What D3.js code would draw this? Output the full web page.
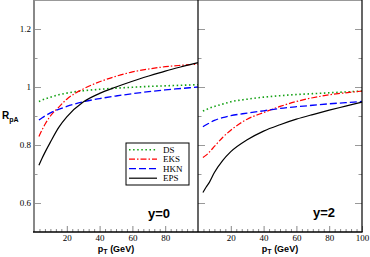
<!DOCTYPE html>
<html>
<head>
<meta charset="UTF-8">
<title>R_pA</title>
<script src="https://cdn.jsdelivr.net/npm/d3@7/dist/d3.min.js"></script>
<style type="text/css">
	body { margin:0; background:white; }
	svg text { fill:black; }
	.tick text { font-family:"Liberation Serif", serif; font-size:9px; }
	.lab { font-family:"Liberation Sans", Arial, sans-serif; font-weight:bold; }
</style>
</head>
<body>
<script type="text/javascript">

// pT points (GeV) shared by every curve
var pT = [3, 5, 7, 10, 15, 20, 30, 40, 50, 60, 70, 80, 90, 100];

// y = 0 panel
var ds0  = [0.950, 0.955, 0.959, 0.965, 0.973, 0.979, 0.987, 0.992, 0.996, 0.999, 1.002, 1.004, 1.006, 1.008];
var eks0 = [0.829, 0.853, 0.874, 0.900, 0.930, 0.958, 0.993, 1.018, 1.037, 1.052, 1.062, 1.070, 1.075, 1.079];
var hkn0 = [0.886, 0.894, 0.901, 0.911, 0.923, 0.933, 0.949, 0.960, 0.969, 0.977, 0.984, 0.990, 0.995, 1.000];
var eps0 = [0.730, 0.755, 0.778, 0.810, 0.860, 0.897, 0.948, 0.978, 1.000, 1.020, 1.038, 1.055, 1.070, 1.084];

// y = 2 panel
var ds2  = [0.917, 0.922, 0.927, 0.933, 0.941, 0.949, 0.958, 0.965, 0.970, 0.974, 0.977, 0.980, 0.983, 0.986];
var eks2 = [0.757, 0.765, 0.776, 0.795, 0.826, 0.851, 0.889, 0.912, 0.933, 0.950, 0.963, 0.973, 0.980, 0.986];
var hkn2 = [0.863, 0.870, 0.876, 0.885, 0.894, 0.901, 0.910, 0.918, 0.926, 0.932, 0.937, 0.942, 0.946, 0.950];
var eps2 = [0.636, 0.655, 0.672, 0.705, 0.746, 0.777, 0.818, 0.848, 0.870, 0.889, 0.905, 0.920, 0.934, 0.948];

var names = ['DS', 'EKS', 'HKN', 'EPS'];
var yMajor = [0.6, 0.8, 1.0, 1.2];
var yMinor = [0.7, 0.9, 1.1];
var xMajor0 = [20, 40, 60, 80];
var xMajor2 = [20, 40, 60, 80, 100];

var styles = {
	DS:  {c:'#12a012', dash:'1.5,2.6', w:1.6},
	EKS: {c:'#ff0000', dash:'6,2,1.5,2', w:1.2},
	HKN: {c:'#0000ff', dash:'7,3', w:1.3},
	EPS: {c:'#000000', dash:null, w:1.2}
};

var W = 370, H = 257,
 yTop = 0, yBot = 232,
 panels = [
	{x0:34, x1:198, data:[ds0, eks0, hkn0, eps0], ticks:xMajor0, label:'y=0', lx:148, ly:218},
	{x0:198, x1:362, data:[ds2, eks2, hkn2, eps2], ticks:xMajor2, label:'y=2', lx:313, ly:217}
 ];

var svg = d3.select('body').append('svg')
	.attr('width', W).attr('height', H);

var y = d3.scaleLinear().domain([0.5, 1.3]).range([yBot, yTop]);

// minor x ticks every 20/6
var xMinor = d3.range(0, 100.001, 20/6).filter(function(v){
	return Math.abs(v/20 - Math.round(v/20)) > 1e-6;
});

function grey(c) {
	return function(a){ a.select('.domain').remove(); a.selectAll('line').attr('stroke', c); };
}

panels.forEach(function(p, pi){
	var x = d3.scaleLinear().domain([0, 100]).range([p.x0, p.x1]);
	var g = svg.append('g');

	// bottom ticks
	g.append('g').attr('transform', 'translate(0,' + yBot + ')')
		.call(d3.axisBottom(x).tickValues(p.ticks).tickSize(-6).tickPadding(3).tickFormat(d3.format('d')))
		.call(grey('#888'));
	g.append('g').attr('transform', 'translate(0,' + yBot + ')')
		.call(d3.axisBottom(x).tickValues(xMinor).tickSize(-3).tickFormat(''))
		.call(grey('#888'));

	// left ticks
	g.append('g').attr('transform', 'translate(' + p.x0 + ',0)')
		.call(d3.axisLeft(y).tickValues(yMajor).tickSize(-7).tickPadding(3)
			.tickFormat(function(d){ return pi == 0 ? (d == 1 ? '1' : d.toFixed(1)) : ''; }))
		.call(grey('#999'));
	g.append('g').attr('transform', 'translate(' + p.x0 + ',0)')
		.call(d3.axisLeft(y).tickValues(yMinor).tickSize(-3.5).tickFormat(''))
		.call(grey('#999'));

	// right-side mirror ticks on the second panel
	if (pi == 1) {
		g.append('g').attr('transform', 'translate(' + p.x1 + ',0)')
			.call(d3.axisRight(y).tickValues(yMajor).tickSize(-7).tickFormat(''))
			.call(grey('#999'));
		g.append('g').attr('transform', 'translate(' + p.x1 + ',0)')
			.call(d3.axisRight(y).tickValues(yMinor).tickSize(-3.5).tickFormat(''))
			.call(grey('#999'));
	}

	// curves
	var line = d3.line()
		.x(function(d, i){ return x(pT[i]); })
		.y(function(d){ return y(d); })
		.curve(d3.curveMonotoneX);

	p.data.forEach(function(s, k){
		var st = styles[names[k]];
		g.append('path')
			.attr('d', line(s))
			.attr('fill', 'none')
			.attr('stroke', st.c)
			.attr('stroke-width', st.w)
			.attr('stroke-dasharray', st.dash);
	});

	// panel label
	g.append('text').attr('class', 'lab')
		.attr('x', p.lx).attr('y', p.ly)
		.style('font-size', '13px')
		.text(p.label);

	// x axis title
	var t = g.append('text').attr('class', 'lab')
		.attr('x', (p.x0 + p.x1) / 2).attr('y', 252)
		.attr('text-anchor', 'middle')
		.style('font-size', '9px');
	t.append('tspan').text('p');
	t.append('tspan').attr('dy', 2).style('font-size', '7px').text('T');
	t.append('tspan').attr('dy', -2).text(' (GeV)');
});

// frame
svg.append('line').attr('x1', 34).attr('x2', 362).attr('y1', 0.5).attr('y2', 0.5)
	.attr('stroke', '#999').attr('stroke-width', 1.2);
svg.append('line').attr('x1', 34).attr('x2', 34).attr('y1', 0).attr('y2', yBot)
	.attr('stroke', '#888').attr('stroke-width', 2);
svg.append('line').attr('x1', 198).attr('x2', 198).attr('y1', 0).attr('y2', yBot)
	.attr('stroke', 'black').attr('stroke-width', 1.2);
svg.append('line').attr('x1', 362).attr('x2', 362).attr('y1', 0).attr('y2', yBot)
	.attr('stroke', 'black').attr('stroke-width', 1.2);
svg.append('line').attr('x1', 33).attr('x2', 362.6).attr('y1', yBot).attr('y2', yBot)
	.attr('stroke', 'black').attr('stroke-width', 1.4);

// y axis title
var r = svg.append('text').attr('class', 'lab').attr('x', 2).attr('y', 119).style('font-size', '10px');
r.append('tspan').text('R');
r.append('tspan').attr('dy', 2.5).style('font-size', '7px').text('pA');

// legend
var leg = svg.append('g');
leg.append('rect').attr('x', 126).attr('y', 143).attr('width', 63).attr('height', 42)
	.attr('fill', 'white').attr('stroke', 'black').attr('stroke-width', 1);
names.forEach(function(n, k){
	var st = styles[n], ly = 149.7 + k * 9.5;
	leg.append('line').attr('x1', 129).attr('x2', 157).attr('y1', ly).attr('y2', ly)
		.attr('stroke', st.c).attr('stroke-width', st.w).attr('stroke-dasharray', st.dash);
	leg.append('text').attr('x', 163).attr('y', ly + 3)
		.style('font-family', '"Liberation Serif", serif').style('font-size', '9px')
		.text(n);
});

</script>
</body>
</html>
